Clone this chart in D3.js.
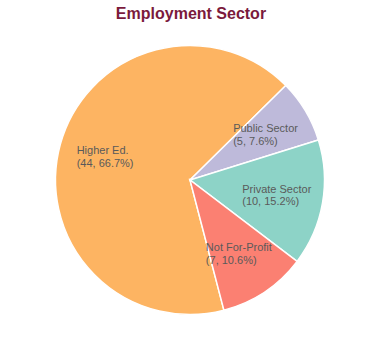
<!DOCTYPE html>
<html><head><meta charset="utf-8">
<script src="https://cdn.jsdelivr.net/npm/d3@7"></script>
<style>body{margin:0;background:#fff}svg{display:block}</style>
</head><body>
<svg id="c" width="380" height="360"></svg>
<script>
const categories = ["Higher Ed.", "Public Sector", "Private Sector", "Not For-Profit"];
const values = [44, 5, 10, 7];
const colors = ["#fdb462", "#bebada", "#8dd3c7", "#fb8072"];
const title = "Employment Sector";

const svg = d3.select("#c");
const W = 380, H = 360, cx = 190, cy = 180, R = 134.5;
svg.append("text").attr("x", 191).attr("y", 18.5).attr("text-anchor", "middle")
  .attr("font-family", "Liberation Sans, Arial, sans-serif").attr("font-weight", "bold")
  .attr("font-size", 16).attr("fill", "#7b1a3c").text(title);

const total = d3.sum(values);
const start = 165.4 * Math.PI / 180;
const pie = d3.pie().sort(null).value(d => d.v).startAngle(start).endAngle(start + 2 * Math.PI);
const data = categories.map((c, i) => ({c, v: values[i], col: colors[i]}));
const arcs = pie(data);
const arc = d3.arc().innerRadius(0).outerRadius(R);
const g = svg.append("g").attr("transform", `translate(${cx},${cy})`);
g.selectAll("path").data(arcs).join("path").attr("d", arc)
  .attr("fill", d => d.data.col).attr("stroke", "#fff").attr("stroke-width", 1.5);

const labR = 0.655 * R;
arcs.forEach(a => {
  const m = (a.startAngle + a.endAngle) / 2;
  const px = Math.sin(m) * labR, py = -Math.cos(m) * labR;
  const pct = (a.data.v / total * 100).toFixed(1);
  const lines = [a.data.c, `(${a.data.v}, ${pct}%)`];
  const t = g.append("text").attr("font-family", "Liberation Sans, Arial, sans-serif")
    .attr("font-size", 11).attr("fill", "#5a5a5a");
  const spans = lines.map((l, i) => t.append("tspan").attr("x", 0).attr("y", i * 12.5).text(l));
  const w = d3.max(spans, s => s.node().getComputedTextLength());
  const x0 = px - w / 2;
  spans.forEach((s, i) => s.attr("x", x0).attr("y", py - 6.25 + 4 + i * 12.5));
});
</script>
</body></html>
